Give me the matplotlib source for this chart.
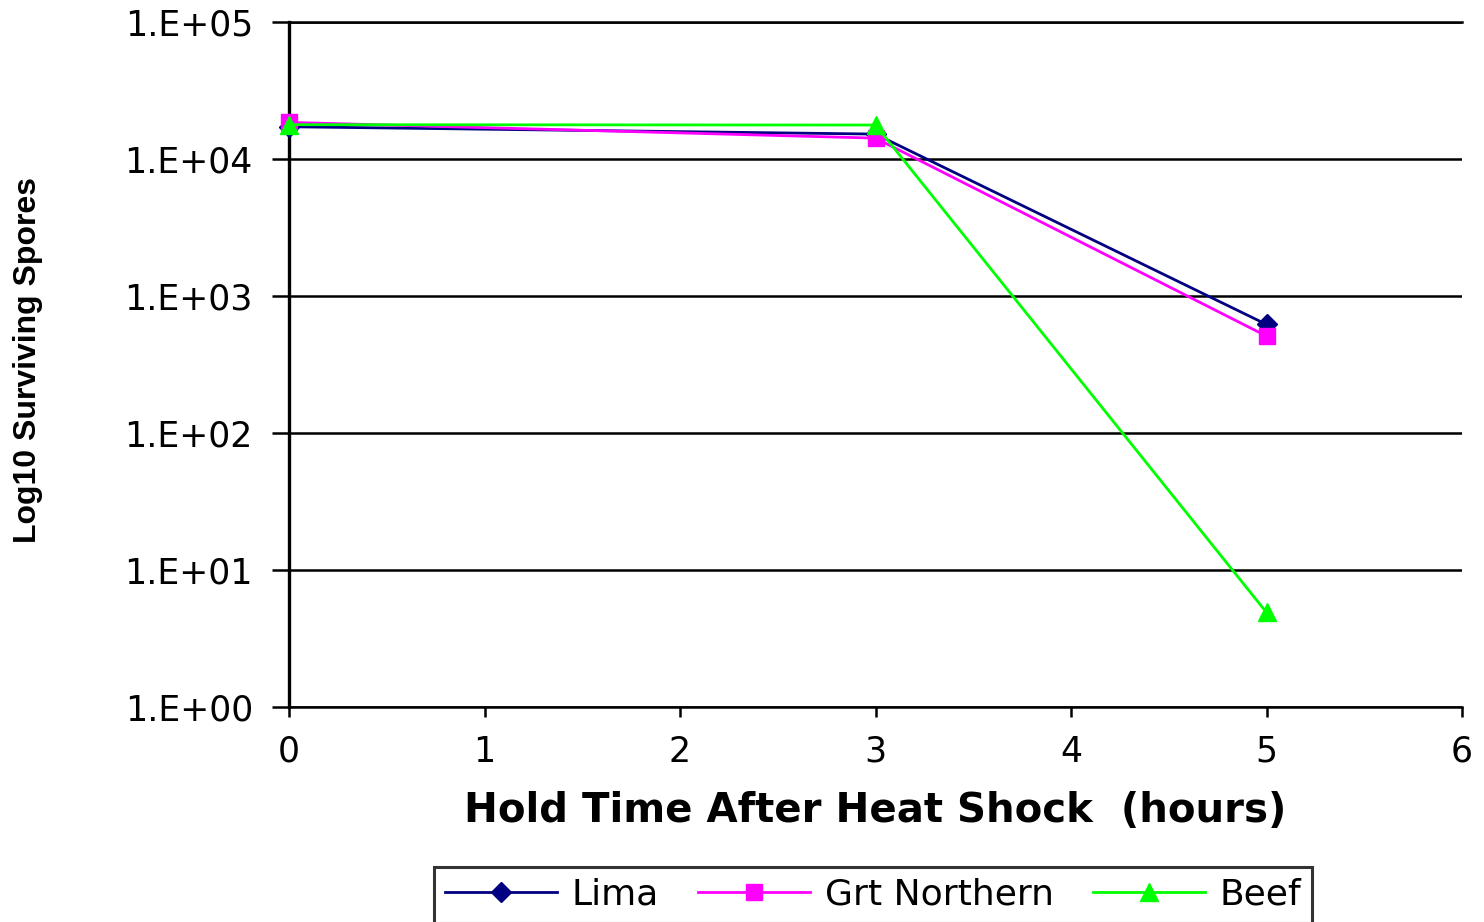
"""Log10 surviving spores vs hold time after heat shock, three media."""
import numpy as np
import matplotlib
matplotlib.use("Agg")
import matplotlib.pyplot as plt
from matplotlib.ticker import FixedLocator, FuncFormatter, NullLocator

# ── data ────────────────────────────────────────────────────────────────────
hours = [0, 3, 5]
lima = [1.72e4, 1.52e4, 620]
grt_northern = [1.85e4, 1.42e4, 510]
beef = [1.78e4, 1.77e4, 4.9]

y_ticks = [1, 1e1, 1e2, 1e3, 1e4, 1e5]
x_ticks = [0, 1, 2, 3, 4, 5, 6]

STYLE = {
    "Lima":         dict(color="#000080", marker="D", markersize=10),
    "Grt Northern": dict(color="#FF00FF", marker="s", markersize=12),
    "Beef":         dict(color="#00FF00", marker="^", markersize=13),
}

plt.rcParams["font.family"] = ["DejaVu Sans"]

fig = plt.figure(figsize=(14.84, 9.22), dpi=100)
ax = fig.add_axes([289 / 1484, 1 - 707 / 922, (1462 - 289) / 1484, (707 - 22) / 922])

for name, vals in [("Lima", lima), ("Grt Northern", grt_northern), ("Beef", beef)]:
    st = STYLE[name]
    ax.plot(hours, vals, label=name, linewidth=2.0, markeredgecolor=st["color"],
            clip_on=False, zorder=3, **st)

ax.set_yscale("log")
ax.set_ylim(1, 1e5)
ax.set_xlim(0, 6)
ax.yaxis.set_major_locator(FixedLocator(y_ticks))
ax.yaxis.set_minor_locator(NullLocator())
ax.yaxis.set_major_formatter(FuncFormatter(lambda v, _: f"1.E+{int(round(np.log10(v))):02d}"))
ax.xaxis.set_major_locator(FixedLocator(x_ticks))

ax.grid(True, axis="y", color="black", linewidth=1.8)
ax.set_axisbelow(True)
ax.spines["right"].set_visible(False)
ax.spines["left"].set_linewidth(2.4)
ax.spines["bottom"].set_linewidth(1.8)
ax.spines["top"].set_linewidth(1.8)

ax.tick_params(axis="y", direction="out", length=12, width=1.8, pad=14, labelsize=25)
ax.tick_params(axis="x", direction="out", length=7, width=1.8, pad=13, labelsize=25)

ax.set_xlabel("Hold Time After Heat Shock  (hours)", fontsize=29, fontweight="bold")
ax.xaxis.set_label_coords(0.5, -0.122)
ax.set_ylabel("Log10 Surviving Spores", fontsize=23, fontweight="bold",
              family=["Liberation Sans", "DejaVu Sans"])
ax.yaxis.set_label_coords(-0.21, 0.507)

leg = fig.legend(loc="upper center", bbox_to_anchor=(873 / 1484, 1 - 867 / 922),
                 ncol=3, fontsize=26, frameon=True, fancybox=False, borderaxespad=0,
                 handlelength=3.1, handletextpad=0.4, columnspacing=1.1,
                 borderpad=0.3)
leg.get_frame().set_edgecolor("black")
leg.get_frame().set_linewidth(2.2)

fig.savefig("out.png", dpi=100)
